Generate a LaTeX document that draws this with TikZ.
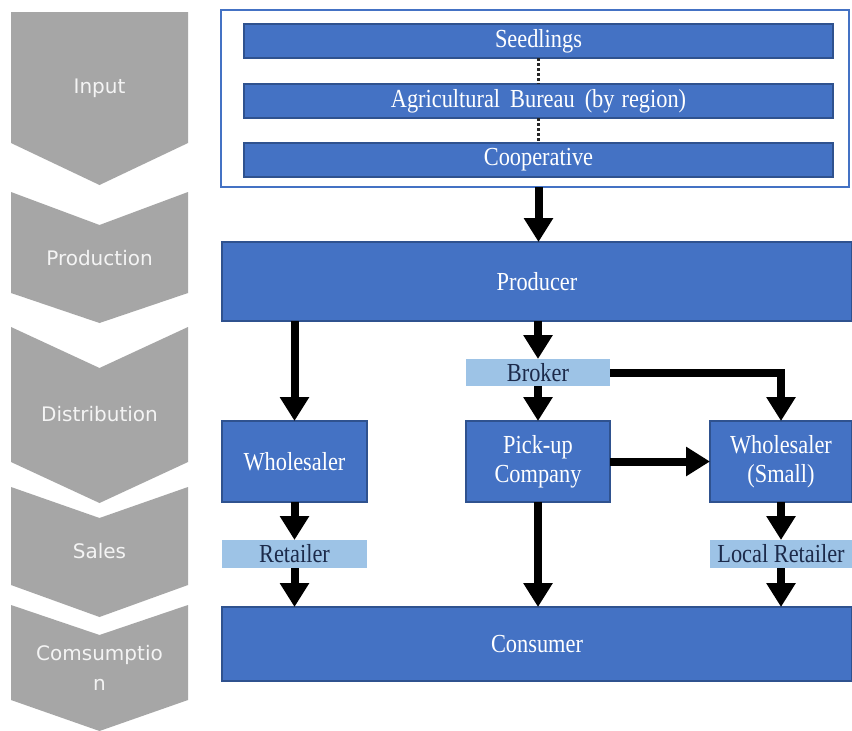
\documentclass[tikz,border=0pt]{standalone}
\usepackage{fontspec}
\setmainfont{Liberation Serif}[FakeStretch=0.86]
\newfontfamily\stagefont{DejaVu Sans}
\usetikzlibrary{arrows.meta,calc}
\definecolor{stagegray}{HTML}{A6A6A6}
\definecolor{stagetext}{HTML}{F4F4F4}
\definecolor{boxblue}{HTML}{4472C4}
\definecolor{boxedge}{HTML}{2F528F}
\definecolor{lightblue}{HTML}{9DC3E6}
\definecolor{darktext}{HTML}{1C2A4A}
\tikzset{
  stageshape/.style={fill=stagegray, draw=none},
  stagelabel/.style={text=stagetext, font=\stagefont\fontsize{20}{30}\selectfont, align=center, inner sep=0pt},
  bluebox/.style={fill=boxblue, draw=boxedge, line width=1.2pt, text=white, inner sep=0pt, outer sep=0pt,
    font=\fontsize{26}{29}\selectfont, align=center},
  lightbox/.style={fill=lightblue, draw=none, text=darktext, inner sep=0pt, outer sep=0pt,
    font=\fontsize{26}{29}\selectfont},
  flow/.style={line width=8pt, -{Triangle[length=24pt,width=28pt]}},
  dotlink/.style={line width=3pt, dash pattern=on 2.5pt off 2.5pt, draw=black!85},
}
\begin{document}
\begin{tikzpicture}[x=1pt,y=-1pt]
\useasboundingbox (0,0) rectangle (852,731);
\fill[white] (0,0) rectangle (852,731);

% stage chevrons
\path[stageshape] (11,12) -- (188,12) -- (188,143) -- (99.5,185) -- (11,143) -- cycle;
\path[stageshape] (11,192) -- (99.5,225) -- (188,192) -- (188,293) -- (99.5,323) -- (11,293) -- cycle;
\path[stageshape] (11,327) -- (99.5,368) -- (188,327) -- (188,462) -- (99.5,503) -- (11,462) -- cycle;
\path[stageshape] (11,487) -- (99.5,518) -- (188,487) -- (188,585) -- (99.5,617) -- (11,585) -- cycle;
\path[stageshape] (11,605) -- (99.5,635) -- (188,605) -- (188,700) -- (99.5,731) -- (11,700) -- cycle;

\node[stagelabel] (sinput) at (99.5,88) {Input};
\node[stagelabel] (sprod) at (99.5,258) {Production};
\node[stagelabel] (sdist) at (99.5,414) {Distribution};
\node[stagelabel] (ssales) at (99.5,551) {Sales};
\node[stagelabel] (scons) at (99.5,668) {Comsumptio\\n};

% input group
\node[draw=boxblue, line width=2pt, fill=white, minimum width=628pt, minimum height=177pt, inner sep=0pt, outer sep=0pt] (inbox) at (535,98.5) {};
\node[bluebox, minimum width=589pt, minimum height=34pt] (seed) at (538.5,41) {Seedlings};
\node[bluebox, minimum width=589pt, minimum height=34pt] (bureau) at (538.5,101) {Agricultural\hspace{10pt}Bureau\hspace{10pt}(by\hspace{7pt}region)};
\node[bluebox, minimum width=589pt, minimum height=34pt] (coop) at (538.5,160) {Cooperative};
\draw[dotlink] (seed.south) -- (bureau.north);
\draw[dotlink] (bureau.south) -- (coop.north);

% main boxes
\node[bluebox, minimum width=630pt, minimum height=79pt] (prod) at (537,281.5) {Producer};
\node[lightbox, minimum width=144pt, minimum height=27pt] (broker) at (538,372.5) {Broker};
\node[bluebox, minimum width=145pt, minimum height=81pt] (whole) at (294.5,461.5) {Wholesaler};
\node[bluebox, minimum width=144pt, minimum height=81pt] (pick) at (538,461.5) {Pick-up\\Company};
\node[bluebox, minimum width=142pt, minimum height=81pt] (wsmall) at (781,461.5) {Wholesaler\\(Small)};
\node[lightbox, minimum width=145pt, minimum height=28pt] (retail) at (294.5,554) {Retailer};
\node[lightbox, minimum width=142pt, minimum height=28pt] (local) at (781,554) {Local Retailer};
\node[bluebox, minimum width=630pt, minimum height=74pt] (cons) at (537,644) {Consumer};

% connectors
\draw[flow] (coop.south |- inbox.south) -- (coop.south |- prod.north);
\draw[flow] (prod.south -| whole.north) -- (whole.north);
\draw[flow] (prod.south -| broker.north) -- (broker.north);
\draw[flow] (broker.south) -- (pick.north);
\draw[flow] (broker.east) -| (wsmall.north);
\draw[flow] (pick.east) -- (wsmall.west);
\draw[flow] (whole.south) -- (retail.north);
\draw[flow] (retail.south) -- (retail.south |- cons.north);
\draw[flow] (pick.south) -- (pick.south |- cons.north);
\draw[flow] (wsmall.south) -- (local.north);
\draw[flow] (local.south) -- (local.south |- cons.north);
\end{tikzpicture}
\end{document}
